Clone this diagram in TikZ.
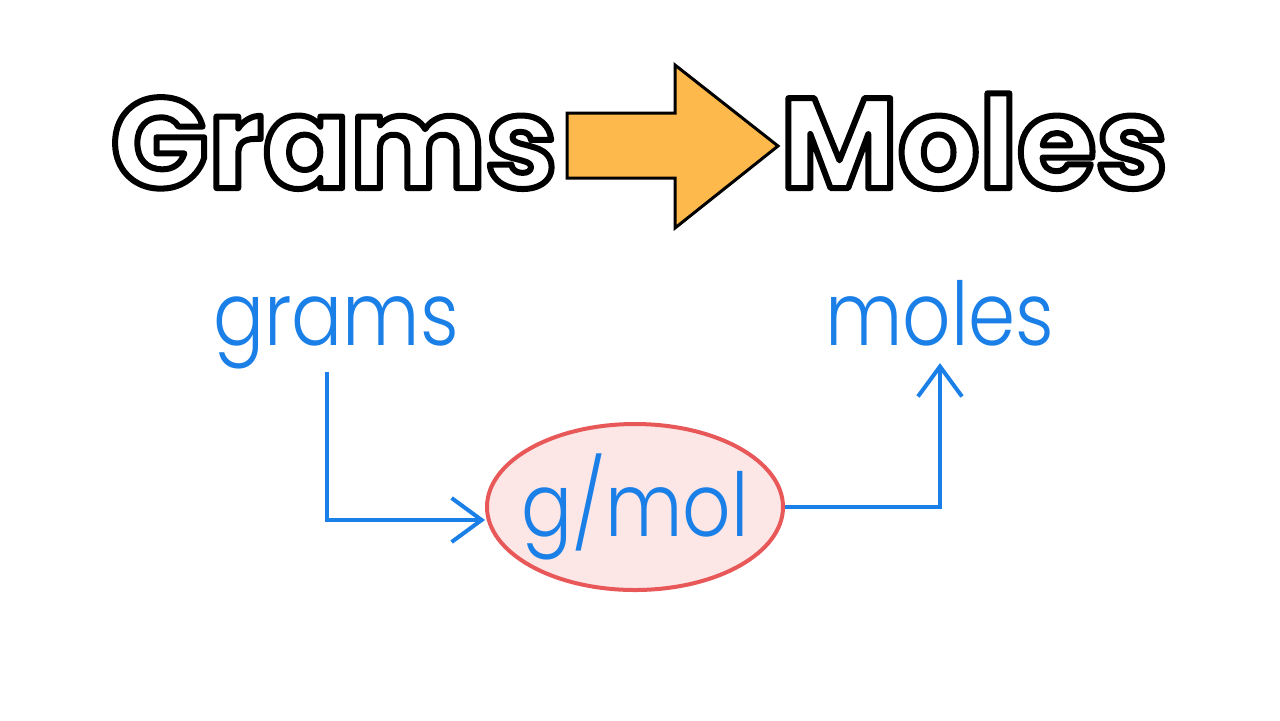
\documentclass[tikz,border=0pt]{standalone}
\usepackage{fontspec}
\setmainfont{Poppins}
\newfontfamily\titlefont{Poppins}
\newfontfamily\handfont{Poppins Light}
\usetikzlibrary{shapes.geometric, arrows.meta, positioning, calc}
\definecolor{inkblue}{HTML}{1A7FE6}
\definecolor{ovalred}{HTML}{E85858}
\definecolor{ovalfill}{HTML}{FCE6E6}
\definecolor{arroworange}{HTML}{FDB94B}
% white letters with a black edge
\newcommand\outlined[1]{{\color{white}\special{pdf:literal direct 0 G 2 Tr 3 w 1 j}#1\special{pdf:literal direct 0 Tr}}}
% narrow hand written words
\newcommand\inkword[1]{\scalebox{0.86}[1]{#1}}

\begin{document}
\begin{tikzpicture}[x=0.5pt,y=-0.5pt,
  title/.style={font=\titlefont\bfseries\fontsize{64}{70}\selectfont, inner sep=0pt},
  hand/.style={font=\handfont\fontsize{44}{50}\selectfont, text=inkblue, inner sep=0pt},
  link/.style={draw=inkblue, line width=2pt, -{Straight Barb[length=15pt,width=22pt]}},
  ratio/.style={ellipse, draw=ovalred, fill=ovalfill, line width=2pt, inner xsep=-12pt, minimum width=148pt, minimum height=83pt}]
\fill[white] (0,0) rectangle (1280,720);
% title line
\node[title, anchor=base] (gr) at (334,188) {\outlined{Grams}};
\node[title, anchor=base] (mo) at (974,188) {\outlined{Moles}};
\draw[line width=1.5pt, fill=arroworange, line join=miter]
    (567,113) -- (675,113) -- (675,65) -- (778,146) -- (675,228) -- (675,178) -- (567,178) -- cycle;
% hand drawn part
\node[hand, anchor=base] (grams) at (336,345) {\inkword{grams}};
\node[hand, anchor=base] (moles) at (940,345) {\inkword{moles}};
\node[hand, ratio] (gmol) at (635,507) {\inkword{g/mol}};
\draw[link] ([shift={(-9,27)}]grams.base) |- ([yshift=-6.5pt]gmol.west);
\draw[link] (gmol.east) -| ([yshift=-8.5pt]moles.south);
\end{tikzpicture}
\end{document}
